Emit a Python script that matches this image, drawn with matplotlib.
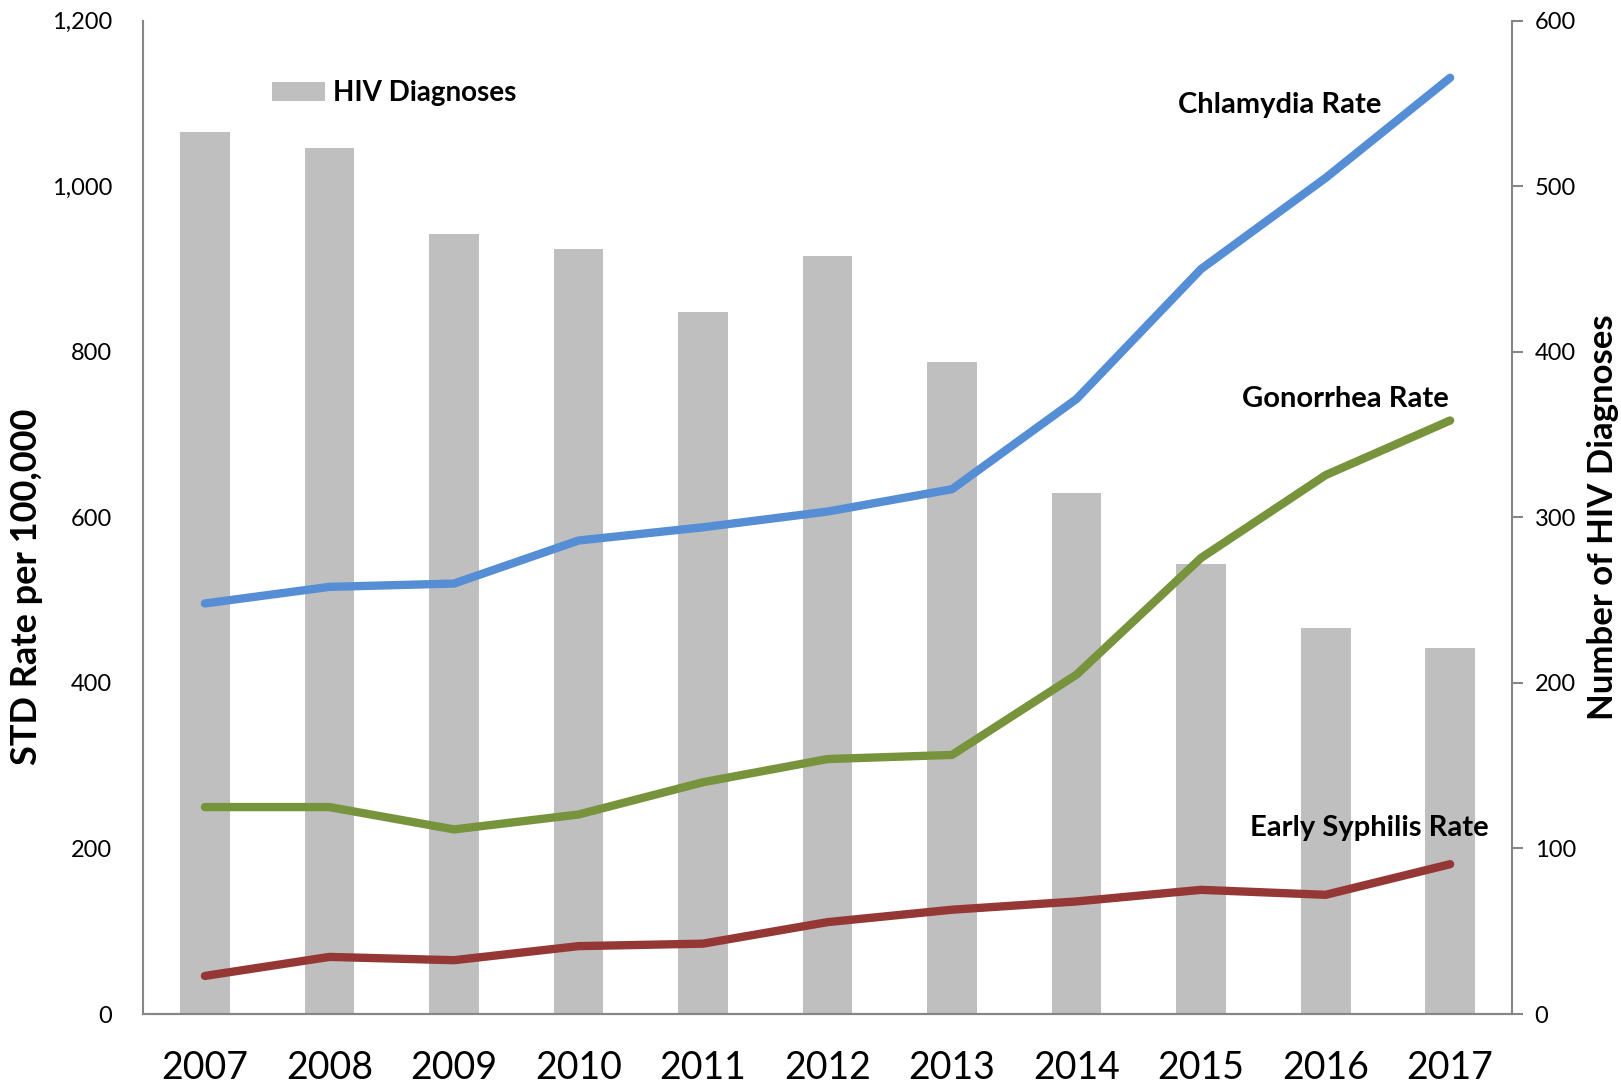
import numpy as np
import matplotlib.pyplot as plt
from matplotlib.ticker import FuncFormatter

plt.rcParams['font.family'] = ['Lato', 'DejaVu Sans']

years = ['2007', '2008', '2009', '2010', '2011', '2012', '2013', '2014', '2015', '2016', '2017']
hiv_diagnoses = [533, 523, 471, 462, 424, 458, 394, 315, 272, 233, 221]
chlamydia_rate = [496, 516, 520, 572, 588, 607, 634, 743, 900, 1010, 1131]
gonorrhea_rate = [250, 250, 223, 241, 280, 308, 313, 410, 551, 651, 717]
syphilis_rate = [46, 69, 65, 82, 85, 111, 126, 136, 150, 144, 181]

x = np.arange(len(years))
axis_grey = '#868686'

fig = plt.figure(figsize=(16.21, 10.88), dpi=100)
ax = fig.add_axes([0.088, 0.068, 0.845, 0.913])
ax2 = ax.twinx()

# bars on the right axis, lines on the left axis drawn on top
bars = ax2.bar(x, hiv_diagnoses, width=0.4, color='#BFBFBF', label='HIV Diagnoses')
ax.set_zorder(ax2.get_zorder() + 1)
ax.patch.set_visible(False)

ax.plot(x, chlamydia_rate, color='#558ED5', lw=6, solid_capstyle='round', solid_joinstyle='round')
ax.plot(x, gonorrhea_rate, color='#77933C', lw=6, solid_capstyle='round', solid_joinstyle='round')
ax.plot(x, syphilis_rate, color='#953735', lw=6, solid_capstyle='round', solid_joinstyle='round')

ax.set_xlim(-0.5, len(years) - 0.5)
ax.set_ylim(0, 1200)
ax2.set_ylim(0, 600)
ax.set_yticks(np.arange(0, 1201, 200))
ax2.set_yticks(np.arange(0, 601, 100))
ax.yaxis.set_major_formatter(FuncFormatter(lambda v, p: f'{int(v):,}'))

ax.set_xticks(x)
ax.set_xticklabels(years, fontsize=27)
ax.tick_params(axis='x', length=0, pad=26)
ax.tick_params(axis='y', length=0, labelsize=17, pad=22)
ax2.tick_params(axis='y', length=8, width=1.5, color=axis_grey, labelsize=17, pad=8)

for a in (ax, ax2):
    a.spines['top'].set_visible(False)
    for s in ('left', 'right', 'bottom'):
        a.spines[s].set_color(axis_grey)
        a.spines[s].set_linewidth(1.5)
ax.spines['right'].set_visible(False)
ax2.spines['left'].set_visible(False)

ax.set_ylabel('STD Rate per 100,000', fontsize=26, fontweight='bold', labelpad=6)
ax.yaxis.label.set_y(0.43)
ax2.set_ylabel('Number of HIV Diagnoses', fontsize=25, fontweight='bold', labelpad=8)

ax.text(8.63, 1098, 'Chlamydia Rate', fontsize=21, fontweight='bold', ha='center', va='center')
ax.text(9.16, 743, 'Gonorrhea Rate', fontsize=21, fontweight='bold', ha='center', va='center')
ax.text(9.35, 225, 'Early Syphilis Rate', fontsize=21, fontweight='bold', ha='center', va='center')

leg = ax.legend([bars], ['HIV Diagnoses'], loc='upper left', bbox_to_anchor=(0.076, 0.965),
                frameon=False, handlelength=1.9, handleheight=0.7, handletextpad=0.3,
                prop={'size': 20, 'weight': 'bold'})

fig.savefig('out.png', dpi=100)
